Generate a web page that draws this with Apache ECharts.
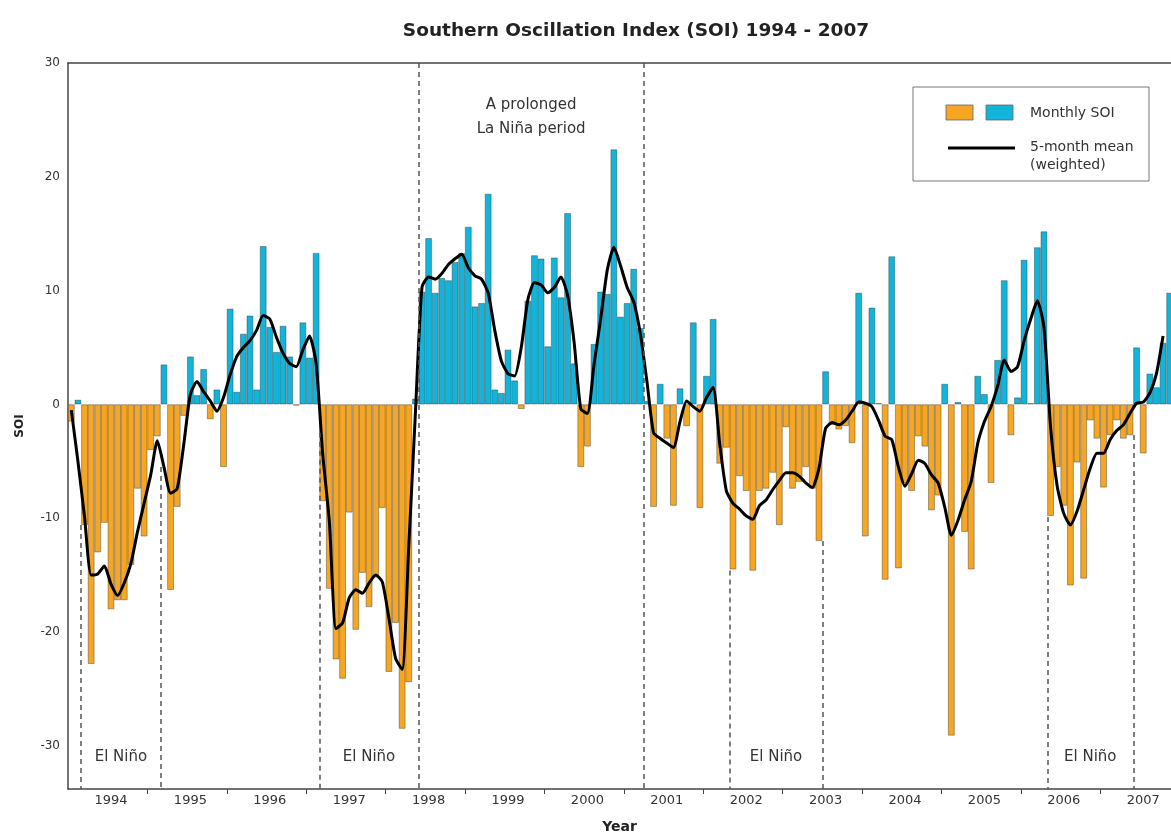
<!DOCTYPE html>
<html>
<head>
<meta charset="utf-8">
<title>Southern Oscillation Index (SOI) 1994 - 2007</title>
<script src="https://cdn.jsdelivr.net/npm/echarts@6/dist/echarts.min.js"></script>
<style>
  html, body { margin: 0; padding: 0; background: #fff; }
  #chart { width: 1171px; height: 834px; }
</style>
</head>
<body>
<div id="chart"></div>
<script>
// monthly SOI values, one array per year (Jan..Dec)
const soi1994 = [-1.5, 0.4, -10.6, -22.8, -13.0, -10.4, -18.0, -17.2, -17.2, -14.1, -7.4, -11.6];
const soi1995 = [-4.0, -2.8, 3.5, -16.3, -9.0, -1.0, 4.2, 0.8, 3.1, -1.3, 1.3, -5.5];
const soi1996 = [8.4, 1.1, 6.2, 7.8, 1.3, 13.9, 6.8, 4.6, 6.9, 4.2, -0.1, 7.2];
const soi1997 = [4.1, 13.3, -8.5, -16.2, -22.4, -24.1, -9.5, -19.8, -14.8, -17.8, -15.2, -9.1];
const soi1998 = [-23.5, -19.2, -28.5, -24.4, 0.5, 9.9, 14.6, 9.8, 11.1, 10.9, 12.5, 13.3];
const soi1999 = [15.6, 8.6, 8.9, 18.5, 1.3, 1.0, 4.8, 2.1, -0.4, 9.1, 13.1, 12.8];
const soi2000 = [5.1, 12.9, 9.4, 16.8, 3.6, -5.5, -3.7, 5.3, 9.9, 9.7, 22.4, 7.7];
const soi2001 = [8.9, 11.9, 6.7, 0.3, -9.0, 1.8, -3.0, -8.9, 1.4, -1.9, 7.2, -9.1];
const soi2002 = [2.5, 7.5, -5.2, -3.8, -14.5, -6.3, -7.6, -14.6, -7.6, -7.4, -6.0, -10.6];
const soi2003 = [-2.0, -7.4, -6.8, -5.5, -7.4, -12.0, 2.9, -1.8, -2.2, -1.9, -3.4, 9.8];
const soi2004 = [-11.6, 8.5, 0.1, -15.4, 13.0, -14.4, -6.9, -7.6, -2.8, -3.7, -9.3, -8.0];
const soi2005 = [1.8, -29.1, 0.2, -11.2, -14.5, 2.5, 0.9, -6.9, 3.9, 10.9, -2.7, 0.6];
const soi2006 = [12.7, 0.1, 13.8, 15.2, -9.8, -5.5, -8.9, -15.9, -5.1, -15.3, -1.4, -3.0];
const soi2007 = [-7.3, -2.7, -1.4, -3.0, -2.7, 5.0, -4.3, 2.7, 1.5, 5.4, 9.8];

// 5-month weighted mean
const mean1994 = [-0.5, -5.0, -9.9, -15.0, -14.9, -14.2, -15.8, -16.8, -15.7, -14.0, -11.2, -8.7];
const mean1995 = [-6.2, -3.2, -5.5, -7.8, -7.4, -3.5, 0.9, 2.0, 1.1, 0.3, -0.6, 0.6];
const mean1996 = [2.6, 4.2, 5.0, 5.6, 6.5, 7.8, 7.5, 5.9, 4.5, 3.6, 3.3, 4.8];
const mean1997 = [6.0, 3.6, -4.4, -10.3, -19.7, -19.2, -17.0, -16.3, -16.6, -15.7, -15.0, -15.6];
const mean1998 = [-18.8, -22.3, -23.3, -12.5, -0.8, 10.3, 11.2, 11.0, 11.5, 12.3, 12.8, 13.2];
const mean1999 = [12.0, 11.3, 11.0, 9.8, 6.5, 3.8, 2.7, 2.5, 5.0, 9.2, 10.7, 10.5];
const mean2000 = [9.8, 10.3, 11.2, 9.6, 5.4, -0.4, -0.8, 3.5, 7.5, 11.8, 13.8, 12.2];
const mean2001 = [10.3, 9.0, 6.2, 2.0, -2.5, -3.0, -3.4, -3.8, -1.5, 0.3, -0.2, -0.6];
const mean2002 = [0.6, 1.5, -3.5, -7.6, -8.7, -9.2, -9.8, -10.1, -8.9, -8.4, -7.5, -6.7];
const mean2003 = [-6.0, -6.0, -6.3, -6.9, -7.3, -5.6, -2.1, -1.6, -1.8, -1.4, -0.6, 0.2];
const mean2004 = [0.1, -0.2, -1.4, -2.8, -3.1, -5.5, -7.2, -6.1, -4.9, -5.2, -6.2, -6.9];
const mean2005 = [-9.0, -11.5, -10.2, -8.4, -6.8, -3.4, -1.5, -0.2, 1.6, 3.9, 2.9, 3.3];
const mean2006 = [5.6, 7.5, 9.1, 6.8, -2.0, -7.2, -9.6, -10.6, -9.4, -7.5, -5.6, -4.3];
const mean2007 = [-4.3, -3.1, -2.3, -1.8, -0.8, 0.1, 0.2, 1.0, 2.7, 6.0];

const years = ['1994', '1995', '1996', '1997', '1998', '1999', '2000',
  '2001', '2002', '2003', '2004', '2005', '2006', '2007'];
const yTicks = [-30, -20, -10, 0, 10, 20, 30];

// episodes, in months counted from Jan 1994
const elNinoFrom = [2, 38, 100, 148];
const elNinoTo = [14, 53, 114, 161];
const laNinaFrom = 53;
const laNinaTo = 87;

// dashed markers: month and the SOI value where each dash starts
const dashMonth = [2, 14, 38, 53, 87, 100, 114, 148, 161];
const dashTop = [-10.6, -5.5, -2.5, 30, 30, -14.6, -12.0, -9.9, -2.7];

const ORANGE = '#F6A623';
const BLUE = '#12B4DA';
const FONT = 'DejaVu Sans, Verdana, sans-serif';
const Y_MIN = -33.8;
const X_MAX = 166.7;

const soi = [].concat(soi1994, soi1995, soi1996, soi1997, soi1998, soi1999, soi2000,
  soi2001, soi2002, soi2003, soi2004, soi2005, soi2006, soi2007);
const mean = [].concat(mean1994, mean1995, mean1996, mean1997, mean1998, mean1999, mean2000,
  mean2001, mean2002, mean2003, mean2004, mean2005, mean2006, mean2007);

const barData = soi.map((v, i) => ({
  value: [i + 0.5, v],
  itemStyle: { color: v < 0 ? ORANGE : BLUE }
}));
const lineData = mean.map((v, i) => [i + 0.5, v]);

const yearTicks = years.slice(1).map((y, i) => (i + 1) * 12);
const yearLabelPos = years.map((y, i) => i * 12 + 6.5);

const axisColor = '#444';

const chart = echarts.init(document.getElementById('chart'));
chart.setOption({
  animation: false,
  textStyle: { fontFamily: FONT },
  title: {
    text: 'Southern Oscillation Index (SOI) 1994 - 2007',
    left: 631,
    top: 17,
    textAlign: 'center',
    textStyle: { fontSize: 18.5, fontWeight: 'bold', color: '#222', fontFamily: FONT }
  },
  grid: { left: 68, right: 0, top: 63, bottom: 45, outerBoundsMode: 'none' },
  xAxis: [
    {
      type: 'value',
      min: 0,
      max: X_MAX,
      position: 'bottom',
      name: 'Year',
      nameLocation: 'middle',
      nameGap: 31,
      nameTextStyle: { fontSize: 14, fontWeight: 'bold', color: '#222', fontFamily: FONT },
      axisLine: { show: true, onZero: false, lineStyle: { color: axisColor, width: 1.5 } },
      axisTick: { show: true, customValues: yearTicks, length: 5, lineStyle: { color: axisColor } },
      axisLabel: {
        customValues: yearLabelPos,
        formatter: v => years[Math.floor(v / 12)],
        color: '#333',
        fontSize: 13,
        margin: 5
      },
      splitLine: { show: false }
    },
    {
      type: 'value',
      min: 0,
      max: X_MAX,
      position: 'top',
      axisLine: { show: true, onZero: false, lineStyle: { color: axisColor, width: 1.5 } },
      axisTick: { show: false },
      axisLabel: { show: false },
      splitLine: { show: false }
    }
  ],
  yAxis: {
    type: 'value',
    min: Y_MIN,
    max: 30,
    name: 'SOI',
    nameLocation: 'middle',
    nameGap: 42,
    nameTextStyle: { fontSize: 12, fontWeight: 'bold', color: '#222', fontFamily: FONT },
    axisLine: { show: true, onZero: false, lineStyle: { color: axisColor, width: 1.5 } },
    axisTick: { show: false },
    axisLabel: { customValues: yTicks, color: '#333', fontSize: 12, margin: 8 },
    splitLine: { show: false }
  },
  series: [
    {
      name: 'Monthly SOI',
      type: 'bar',
      barWidth: 6.6,
      data: barData,
      itemStyle: { borderColor: 'rgba(40,40,40,0.55)', borderWidth: 0.7 },
      markArea: {
        silent: true,
        itemStyle: { color: 'rgba(0,0,0,0)' },
        label: { color: '#333', fontSize: 15, fontFamily: FONT },
        data: elNinoFrom.map((m, i) => [
          { xAxis: m, name: 'El Niño', label: { position: 'insideBottom', distance: 24 } },
          { xAxis: elNinoTo[i] }
        ]).concat([[
          {
            xAxis: laNinaFrom,
            name: 'A prolonged\nLa Niña period',
            label: { position: 'insideTop', distance: 30, lineHeight: 24 }
          },
          { xAxis: laNinaTo }
        ]])
      }
    },
    {
      name: '5-month mean (weighted)',
      type: 'line',
      data: lineData,
      showSymbol: false,
      symbol: 'none',
      smooth: 0.2,
      lineStyle: { color: '#000', width: 3, join: 'round' },
      z: 4,
      markLine: {
        silent: true,
        symbol: ['none', 'none'],
        label: { show: false },
        lineStyle: { color: '#555', type: [5, 4], width: 1.5 },
        data: dashMonth.map((m, i) => [
          { coord: [m, dashTop[i]] },
          { coord: [m, Y_MIN] }
        ])
      }
    }
  ],
  graphic: [
    {
      type: 'group',
      z: 100,
      children: [
        { type: 'rect', shape: { x: 913, y: 87, width: 236, height: 94 },
          style: { fill: '#fff', stroke: '#777', lineWidth: 1 } },
        { type: 'rect', shape: { x: 946, y: 105, width: 27, height: 15 },
          style: { fill: ORANGE, stroke: '#666', lineWidth: 0.8 } },
        { type: 'rect', shape: { x: 986, y: 105, width: 27, height: 15 },
          style: { fill: BLUE, stroke: '#666', lineWidth: 0.8 } },
        { type: 'line', shape: { x1: 948, y1: 148, x2: 1015, y2: 148 },
          style: { stroke: '#000', lineWidth: 3 } },
        { type: 'text', x: 1030, y: 113,
          style: { text: 'Monthly SOI', fontSize: 14, fontFamily: FONT, fill: '#333', verticalAlign: 'middle' } },
        { type: 'text', x: 1030, y: 147,
          style: { text: '5-month mean', fontSize: 14, fontFamily: FONT, fill: '#333', verticalAlign: 'middle' } },
        { type: 'text', x: 1030, y: 165,
          style: { text: '(weighted)', fontSize: 14, fontFamily: FONT, fill: '#333', verticalAlign: 'middle' } }
      ]
    }
  ]
});
</script>
</body>
</html>
